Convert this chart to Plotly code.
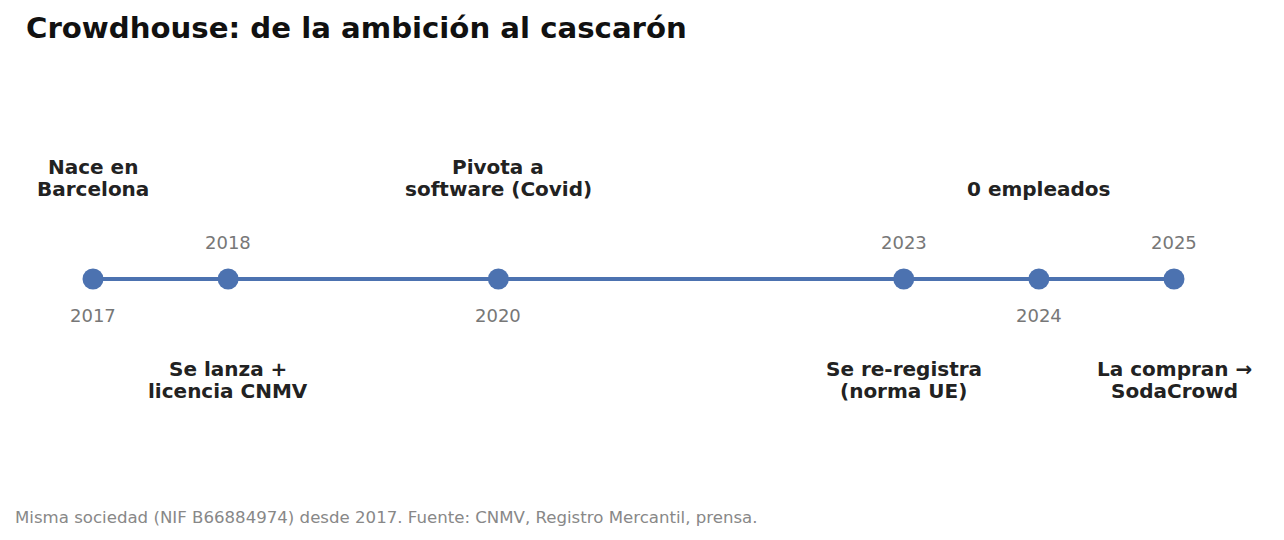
import plotly.graph_objects as go

# timeline data
years = [2017, 2018, 2020, 2023, 2024, 2025]
events = [
    "Nace en\nBarcelona",
    "Se lanza +\nlicencia CNMV",
    "Pivota a\nsoftware (Covid)",
    "Se re-registra\n(norma UE)",
    "0 empleados",
    "La compran →\nSodaCrowd",
]

title = "Crowdhouse: de la ambición al cascarón"
note = "Misma sociedad (NIF B66884974) desde 2017. Fuente: CNMV, Registro Mercantil, prensa."

BLUE = "#4C72B0"
FONT = "DejaVu Sans"
W, H = 1276, 532   # page body has an 8px margin
X0, X1, Y0 = 85, 1166, 271   # pixel spots of first/last year and the line

fig = go.Figure()
fig.add_trace(go.Scatter(
    x=years, y=[0] * len(years),
    mode="lines+markers",
    line=dict(color=BLUE, width=4),
    marker=dict(color=BLUE, size=21),
    hoverinfo="skip",
))

# alternate labels above / below the line
for i, (yr, ev) in enumerate(zip(years, events)):
    up = i % 2 == 0
    lines = ev.split("\n")
    if up:
        lines = lines[::-1]  # stack upward from the bottom line
    for k, ln in enumerate(lines):
        off = 76 + 22 * k
        fig.add_annotation(
            x=yr, y=0, text=ln, showarrow=False,
            yshift=off if up else -off,
            yanchor="bottom" if up else "top",
            font=dict(family=FONT, size=20, color="#222222", weight="bold"),
        )
    fig.add_annotation(
        x=yr, y=0, text=str(yr), showarrow=False,
        yshift=-36 if up else 37, yanchor="middle",
        font=dict(family=FONT, size=18, color="#777777"),
    )

fig.add_annotation(
    x=16 / W, y=1 - 20 / H, xref="paper", yref="paper",
    xanchor="left", yanchor="middle", showarrow=False, text=title,
    font=dict(family=FONT, size=29.2, color="#111111", weight="bold"),
)
fig.add_annotation(
    x=5 / W, y=1 - 509 / H, xref="paper", yref="paper",
    xanchor="left", yanchor="middle", showarrow=False, text=note,
    font=dict(family=FONT, size=16.6, color="#888888"),
)

ppy = (X1 - X0) / (years[-1] - years[0])
fig.update_layout(
    width=W, height=H,
    margin=dict(l=0, r=0, t=0, b=0),
    paper_bgcolor="white", plot_bgcolor="white",
    showlegend=False,
    xaxis=dict(range=[years[0] - X0 / ppy, years[-1] + (W - X1) / ppy],
               visible=False, fixedrange=True),
    yaxis=dict(range=[1 - H / Y0, 1], visible=False, fixedrange=True),
)

fig.write_html("out.html")
